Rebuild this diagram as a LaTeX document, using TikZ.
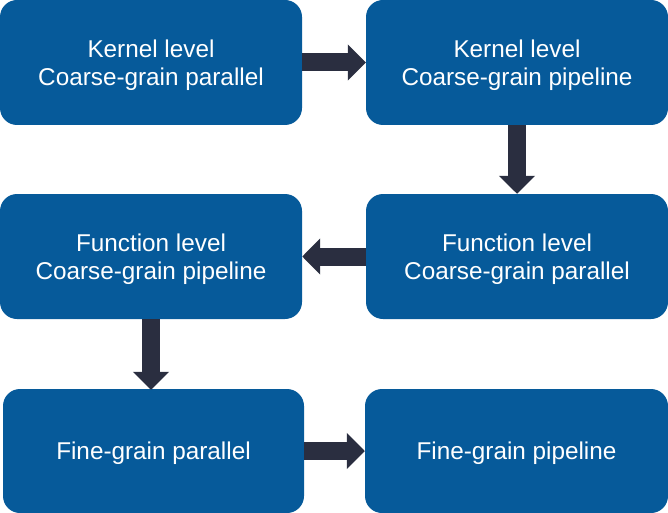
\documentclass[tikz,border=0pt]{standalone}
\usepackage{fontspec}
\setmainfont{Liberation Sans}
\usetikzlibrary{arrows.meta}
\definecolor{boxblue}{RGB}{6,90,154}
\definecolor{arrowdark}{RGB}{42,46,64}
\newcommand{\liftstrut}{\rule{0pt}{22.5pt}}
\begin{document}
\begin{tikzpicture}[x=1pt,y=-1pt,
  stagebox/.style={rectangle, rounded corners=17pt, fill=boxblue, text=white,
    align=center, inner sep=0pt, minimum width=302pt, minimum height=125pt,
    font=\fontsize{24.3pt}{28pt}\selectfont},
  blockarrow/.style={draw=arrowdark, line width=18pt,
    -{Triangle[width=35pt,length=18pt,fill=arrowdark]}}]
\useasboundingbox (0,0) rectangle (668,513);
\node[stagebox] (A) at (151,62.5) {\liftstrut Kernel level\\Coarse-grain parallel};
\node[stagebox] (B) at (517,62.5) {\liftstrut Kernel level\\Coarse-grain pipeline};
\node[stagebox] (C) at (517,256.5) {\liftstrut Function level\\Coarse-grain parallel};
\node[stagebox] (D) at (151,256.5) {\liftstrut Function level\\Coarse-grain pipeline};
\node[stagebox, minimum width=301pt, minimum height=124pt] (E) at (153.5,451) {\liftstrut Fine-grain parallel};
\node[stagebox, minimum width=303pt, minimum height=124pt] (F) at (516.5,451) {\liftstrut Fine-grain pipeline};
\draw[blockarrow] (A.east) -- (B.west);
\draw[blockarrow] (B.south) -- (C.north);
\draw[blockarrow] (C.west) -- (D.east);
\draw[blockarrow] (D.south) -- ([yshift=-1pt]E.north -| D.south);
\draw[blockarrow] (E.east) -- (F.west);
\end{tikzpicture}
\end{document}
